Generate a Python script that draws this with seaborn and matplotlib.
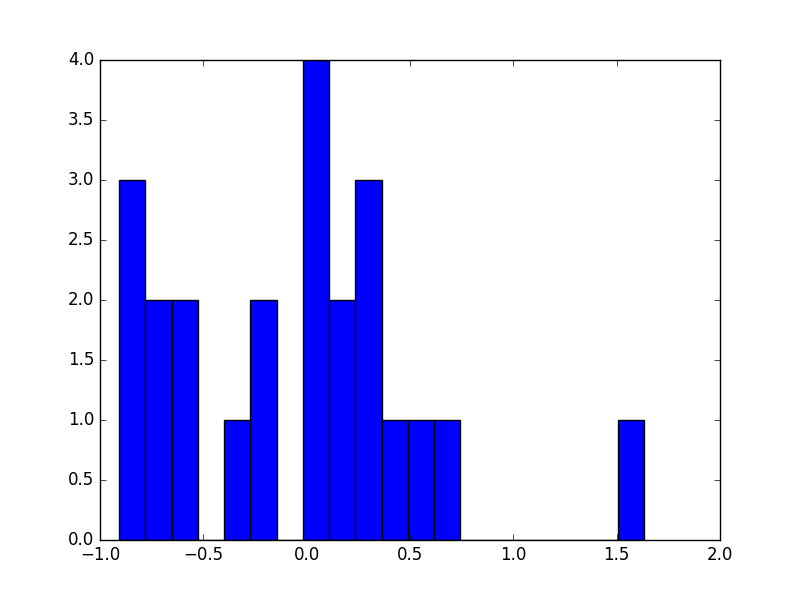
import numpy as np
import pandas as pd
import seaborn as sns
import matplotlib
matplotlib.use("Agg")
import matplotlib.pyplot as plt

# histogram: 20 equal bins
bin_start = -0.908
bin_end = 1.634
counts = [3, 2, 2, 0, 1, 2, 0, 4, 2, 3, 1, 1, 1, 0, 0, 0, 0, 0, 0, 1]


def plot_hist():
    edges = np.linspace(bin_start, bin_end, len(counts) + 1)
    df = pd.DataFrame({
        "x": (edges[:-1] + edges[1:]) / 2,
        "n": counts,
    })

    plt.style.use("classic")
    fig, ax = plt.subplots(figsize=(8, 6), dpi=100)
    fig.patch.set_facecolor("white")
    sns.histplot(
        data=df,
        x="x",
        weights="n",
        bins=len(counts),
        binrange=(bin_start, bin_end),
        color="#0000ff",
        edgecolor="black",
        linewidth=1.0,
        alpha=1.0,
        ax=ax,
    )
    ax.set_xlim(-1.0, 2.0)
    ax.set_ylim(0, 4.0)
    ax.set_xlabel("")
    ax.set_ylabel("")
    ax.grid(False)
    fig.savefig("out.png", dpi=100, facecolor="white")


if __name__ == "__main__":
    plot_hist()
